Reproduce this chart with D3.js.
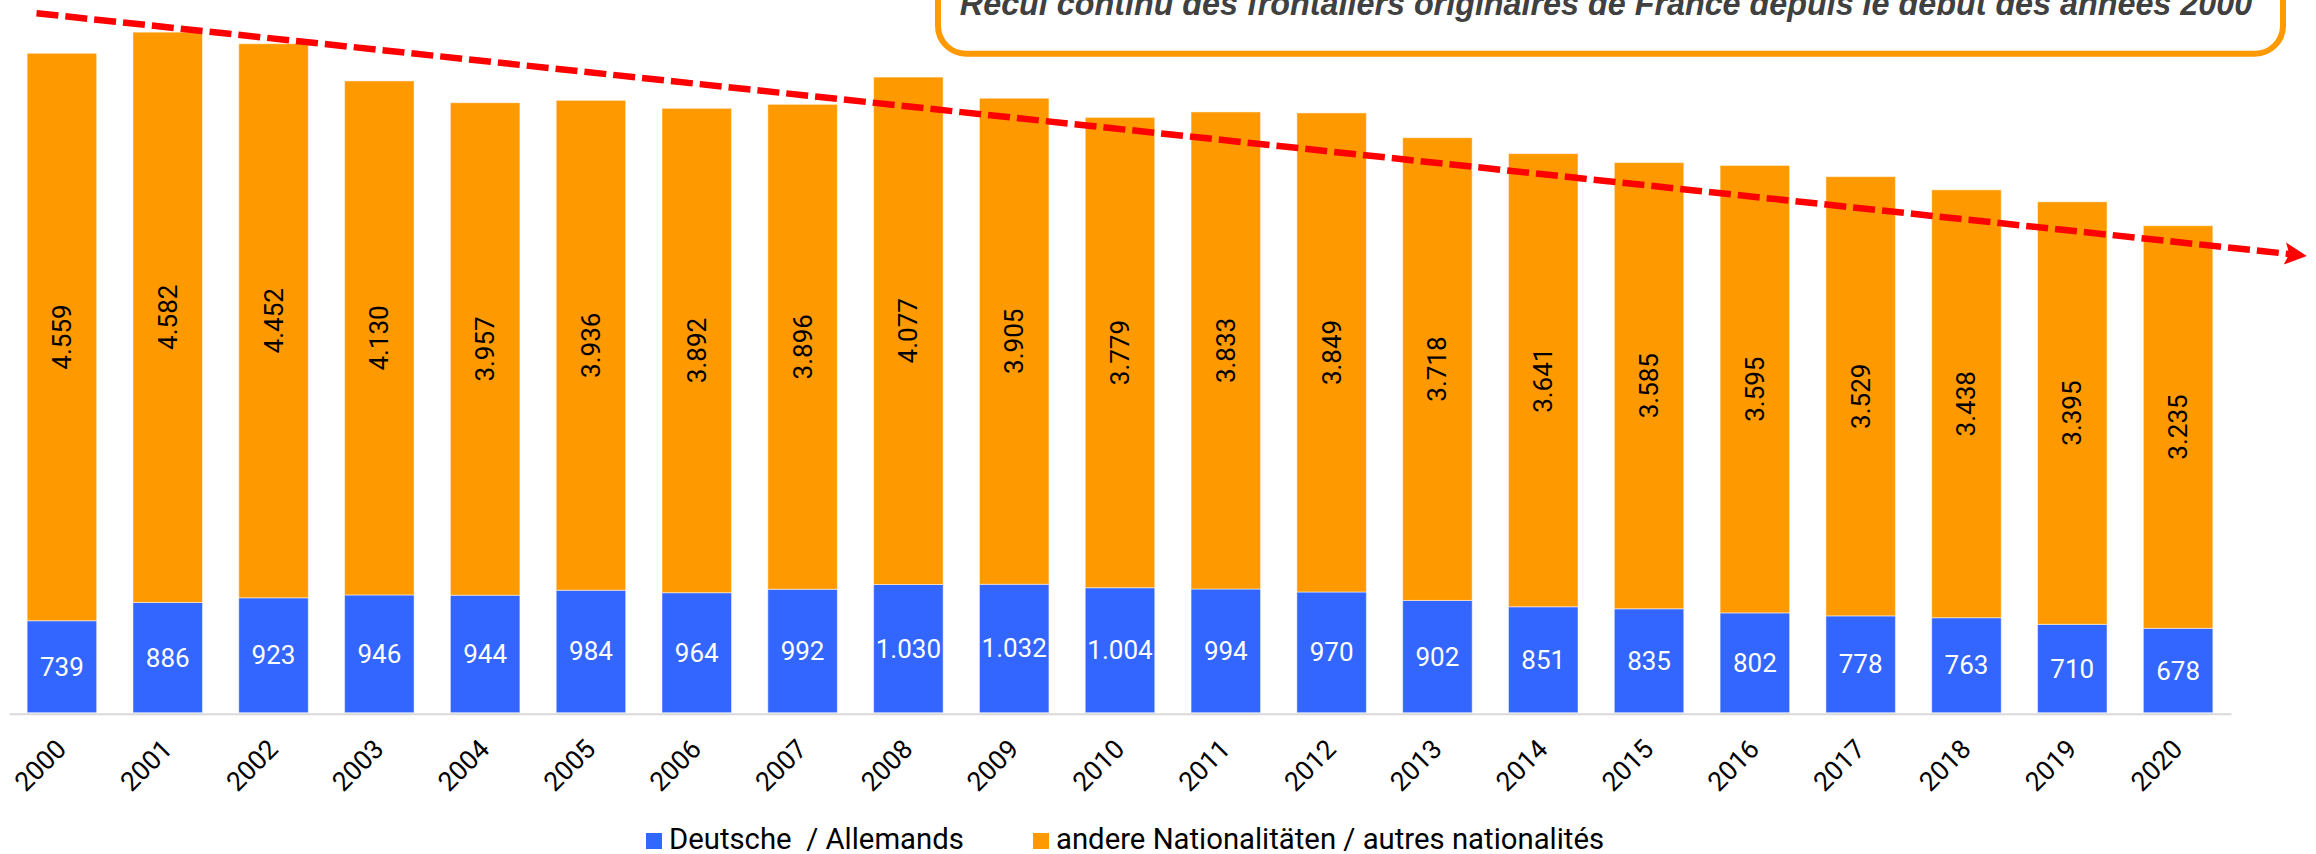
<!DOCTYPE html>
<html>
  <head>
    <meta charset="utf-8">
    <title>Grenzgänger / frontaliers</title>
    <script src="https://d3js.org/d3.v7.min.js"></script>
    <style>
      body { margin: 0; background: #fff; }
      svg { display: block; }
    </style>
  </head>
  <body>
    <div id="chart"></div>
    <script>
      // data
      const years = ["2000", "2001", "2002", "2003", "2004", "2005", "2006", "2007", "2008", "2009", "2010",
        "2011", "2012", "2013", "2014", "2015", "2016", "2017", "2018", "2019", "2020"];
      const deutsche = [739, 886, 923, 946, 944, 984, 964, 992, 1030, 1032, 1004, 994, 970, 902, 851, 835, 802, 778, 763, 710, 678];
      const andere = [4559, 4582, 4452, 4130, 3957, 3936, 3892, 3896, 4077, 3905, 3779, 3833, 3849, 3718, 3641, 3585, 3595, 3529, 3438, 3395, 3235];
      const seriesNames = ["Deutsche  / Allemands", "andere Nationalitäten / autres nationalités"];
      const seriesColors = ["#3366ff", "#ff9900"];
      // trend arrow, in bar index / value units
      const trendIndex = [-0.24, 21.22];
      const trendValue = [5620, 3670];
      const note = "Recul continu des frontaliers originaires de France depuis le début des années 2000";

      const width = 2316, height = 854;
      const fmt = d3.formatLocale({ decimal: ",", thousands: ".", grouping: [3], currency: ["", "€"] }).format(",d");

      const svg = d3.select("#chart")
        .append("svg")
        .attr("width", width)
        .attr("height", height);

      // scales
      const x = d3.scaleBand()
        .domain(years)
        .range([9, 2231])
        .paddingInner(0.343)
        .paddingOuter(0.1715);
      const y = d3.scaleLinear()
        .domain([0, 5500])
        .range([712.7, 712.7 - 5500 * 0.12446]);

      const rows = years.map(function(yr, i) {
        return { year: yr, de: deutsche[i], other: andere[i] };
      });
      const stacked = d3.stack().keys(["de", "other"])(rows);

      // bars
      const layers = svg.selectAll(".layer")
        .data(stacked)
        .enter().append("g")
          .attr("class", "layer")
          .attr("fill", function(d, i) { return seriesColors[i]; });
      layers.selectAll("rect")
        .data(function(d) { return d; })
        .enter().append("rect")
          .attr("x", function(d) { return x(d.data.year); })
          .attr("width", x.bandwidth())
          .attr("y", function(d) { return y(d[1]); })
          .attr("height", function(d) { return y(d[0]) - y(d[1]); })
          .attr("stroke", "rgba(255,255,255,0.5)")
          .attr("stroke-width", 1);

      // axis line
      const xAxis = svg.append("g")
        .attr("transform", "translate(0," + y(0) + ")")
        .call(d3.axisBottom(x).tickSize(0).tickPadding(0));
      xAxis.select(".domain")
        .attr("stroke", "#d9d9d9")
        .attr("stroke-width", 2)
        .attr("transform", "translate(0,1)");
      xAxis.selectAll(".tick text")
        .attr("font-family", "Roboto")
        .attr("font-size", 26.5)
        .attr("fill", "#000")
        .attr("text-anchor", "end")
        .attr("dy", 0)
        .attr("transform", "translate(6,38) rotate(-45)");

      // value labels
      svg.append("g").selectAll("text")
        .data(stacked[0])
        .enter().append("text")
          .attr("x", function(d) { return x(d.data.year) + x.bandwidth() / 2; })
          .attr("y", function(d) { return (y(d[0]) + y(d[1])) / 2; })
          .attr("text-anchor", "middle")
          .attr("dominant-baseline", "central")
          .attr("font-family", "Roboto")
          .attr("font-size", 26)
          .attr("fill", "#fff")
          .text(function(d) { return fmt(d.data.de); });
      svg.append("g").selectAll("text")
        .data(stacked[1])
        .enter().append("text")
          .attr("transform", function(d) {
            return "translate(" + (x(d.data.year) + x.bandwidth() / 2) + "," + ((y(d[0]) + y(d[1])) / 2) + ") rotate(-90)";
          })
          .attr("text-anchor", "middle")
          .attr("dominant-baseline", "central")
          .attr("font-family", "Roboto")
          .attr("font-size", 26)
          .attr("fill", "#000")
          .text(function(d) { return fmt(d.data.other); });

      // trend arrow
      const ix = function(i) { return x(years[0]) + x.bandwidth() / 2 + i * x.step(); };
      svg.append("defs").append("marker")
        .attr("id", "head")
        .attr("viewBox", "0 0 10 10")
        .attr("refX", 2)
        .attr("refY", 5)
        .attr("markerUnits", "userSpaceOnUse")
        .attr("markerWidth", 22)
        .attr("markerHeight", 34)
        .attr("orient", "auto")
        .append("path")
          .attr("d", "M0,0 L10,5 L0,10 L2,5 Z")
          .attr("fill", "#ff0000");
      const x0 = ix(trendIndex[0]), y0 = y(trendValue[0]);
      const x1 = ix(trendIndex[1]), y1 = y(trendValue[1]);
      const len = Math.hypot(x1 - x0, y1 - y0);
      const back = 18;
      svg.append("line")
        .attr("x1", x0)
        .attr("y1", y0)
        .attr("x2", x1 - (x1 - x0) / len * back)
        .attr("y2", y1 - (y1 - y0) / len * back)
        .attr("stroke", "#ff0000")
        .attr("stroke-width", 6.5)
        .attr("stroke-dasharray", "22,7")
        .attr("marker-end", "url(#head)");

      // annotation box
      const box = svg.append("g");
      box.append("rect")
        .attr("x", 938)
        .attr("y", -60)
        .attr("width", 2283 - 938)
        .attr("height", 53.7 + 60)
        .attr("rx", 28)
        .attr("fill", "#fff")
        .attr("stroke", "#ff9900")
        .attr("stroke-width", 6);
      box.append("text")
        .attr("x", 1606)
        .attr("y", 15)
        .attr("text-anchor", "middle")
        .attr("font-family", "Liberation Sans, Arial, sans-serif")
        .attr("font-weight", "bold")
        .attr("font-style", "italic")
        .attr("font-size", 32.3)
        .attr("fill", "#404040")
        .text(note);

      // legend
      const legendX = [646, 1033];
      const legend = svg.append("g").selectAll("g")
        .data(seriesNames)
        .enter().append("g")
          .attr("transform", function(d, i) { return "translate(" + legendX[i] + ",833)"; });
      legend.append("rect")
        .attr("width", 16)
        .attr("height", 16)
        .attr("fill", function(d, i) { return seriesColors[i]; });
      legend.append("text")
        .attr("x", 23)
        .attr("y", 16)
        .attr("font-family", "Roboto")
        .attr("font-size", 29.3)
        .attr("fill", "#000")
        .attr("xml:space", "preserve")
        .style("white-space", "pre")
        .text(function(d) { return d; });
    </script>
  </body>
</html>
